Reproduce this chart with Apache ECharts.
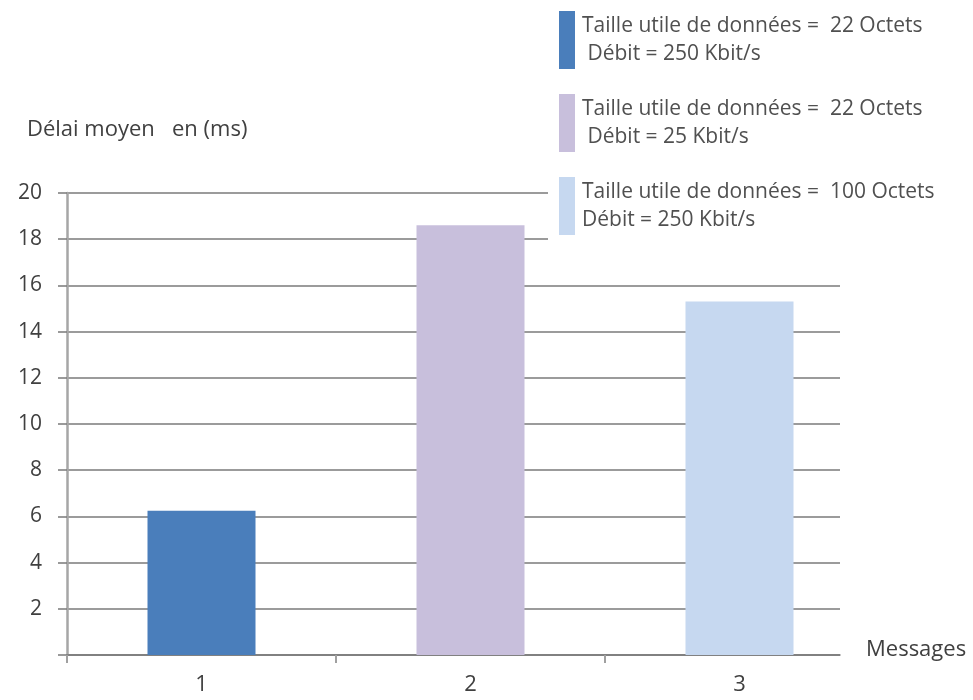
<!DOCTYPE html>
<html>
<head>
<meta charset="utf-8">
<script src="https://cdn.jsdelivr.net/npm/echarts@6/dist/echarts.min.js"></script>
<style>html,body{margin:0;padding:0;background:#fff}#c{width:973px;height:700px}</style>
</head>
<body>
<div id="c"></div>
<script>
const categories = ['1', '2', '3'];
const values = [6.25, 18.6, 15.3];
const seriesNames = [
  'Taille utile de données =  22 Octets\n Débit = 250 Kbit/s',
  'Taille utile de données =  22 Octets\n Débit = 25 Kbit/s',
  'Taille utile de données =  100 Octets\nDébit = 250 Kbit/s'
];
const colors = ['#4a7ebb', '#c8bfdc', '#c6d8f0'];
const yTicks = { min: 0, max: 20, interval: 2 };
const yTitle = 'Délai moyen   en (ms)';
const xTitle = 'Messages';

const FONT = 'Open Sans';
const chart = echarts.init(document.getElementById('c'));
const series = seriesNames.map((name, i) => ({
  name: name,
  type: 'bar',
  xAxisIndex: 1,
  yAxisIndex: 1,
  barWidth: 108,
  barGap: '-100%',
  itemStyle: { color: colors[i] },
  data: categories.map((c, j) => (j === i ? values[i] : '-'))
}));

chart.setOption({
  animation: false,
  backgroundColor: '#fff',
  textStyle: { fontFamily: FONT },
  title: [
    {
      text: yTitle, left: 22, top: 114,
      textStyle: { fontFamily: FONT, fontSize: 22, fontWeight: 'normal', color: '#404040' }
    },
    {
      text: xTitle, left: 862, top: 637,
      backgroundColor: '#fff', padding: [2, 4, 8, 4],
      textStyle: { fontFamily: FONT, fontSize: 22, fontWeight: 'normal', color: '#404040' }
    }
  ],
  legend: {
    orient: 'vertical', left: 548, top: 0,
    padding: [11, 12, 8, 11],
    backgroundColor: '#fff',
    itemWidth: 16, itemHeight: 58, itemGap: 25,
    icon: 'rect', selectedMode: false,
    data: seriesNames,
    textStyle: { fontFamily: FONT, fontSize: 21, color: '#505050', lineHeight: 28, padding: [2, 0, 0, 2] }
  },
  grid: [
    { left: 67, right: 133, top: 193, bottom: 45 },
    { left: 67, right: 99, top: 193, bottom: 45 }
  ],
  xAxis: [
    {
      type: 'category', gridIndex: 0, data: categories,
      axisLine: { show: true, lineStyle: { color: '#7a7a7a', width: 1.5 } },
      axisTick: { show: false }, axisLabel: { show: false }, splitLine: { show: false }
    },
    {
      type: 'category', gridIndex: 1, data: categories,
      axisLine: { show: false },
      axisTick: { show: true, length: 8, lineStyle: { color: '#a0a0a0', width: 2 } },
      axisLabel: { margin: 19, fontFamily: FONT, fontSize: 22, color: '#404040' },
      splitLine: { show: false }
    }
  ],
  yAxis: [
    {
      type: 'value', gridIndex: 0, min: yTicks.min, max: yTicks.max, interval: yTicks.interval,
      axisLine: { show: true, lineStyle: { color: '#a6a6a6', width: 2.5 } },
      axisTick: { show: true, length: 9, lineStyle: { color: '#7a7a7a', width: 1.5 } },
      axisLabel: {
        margin: 25, fontFamily: FONT, fontSize: 21, color: '#404040',
        formatter: v => (v === 0 ? '' : String(v))
      },
      splitLine: { show: true, lineStyle: { color: '#7a7a7a', width: 1.5 } }
    },
    {
      type: 'value', gridIndex: 1, min: yTicks.min, max: yTicks.max, interval: yTicks.interval,
      show: false
    }
  ],
  series: series
});
</script>
</body>
</html>
